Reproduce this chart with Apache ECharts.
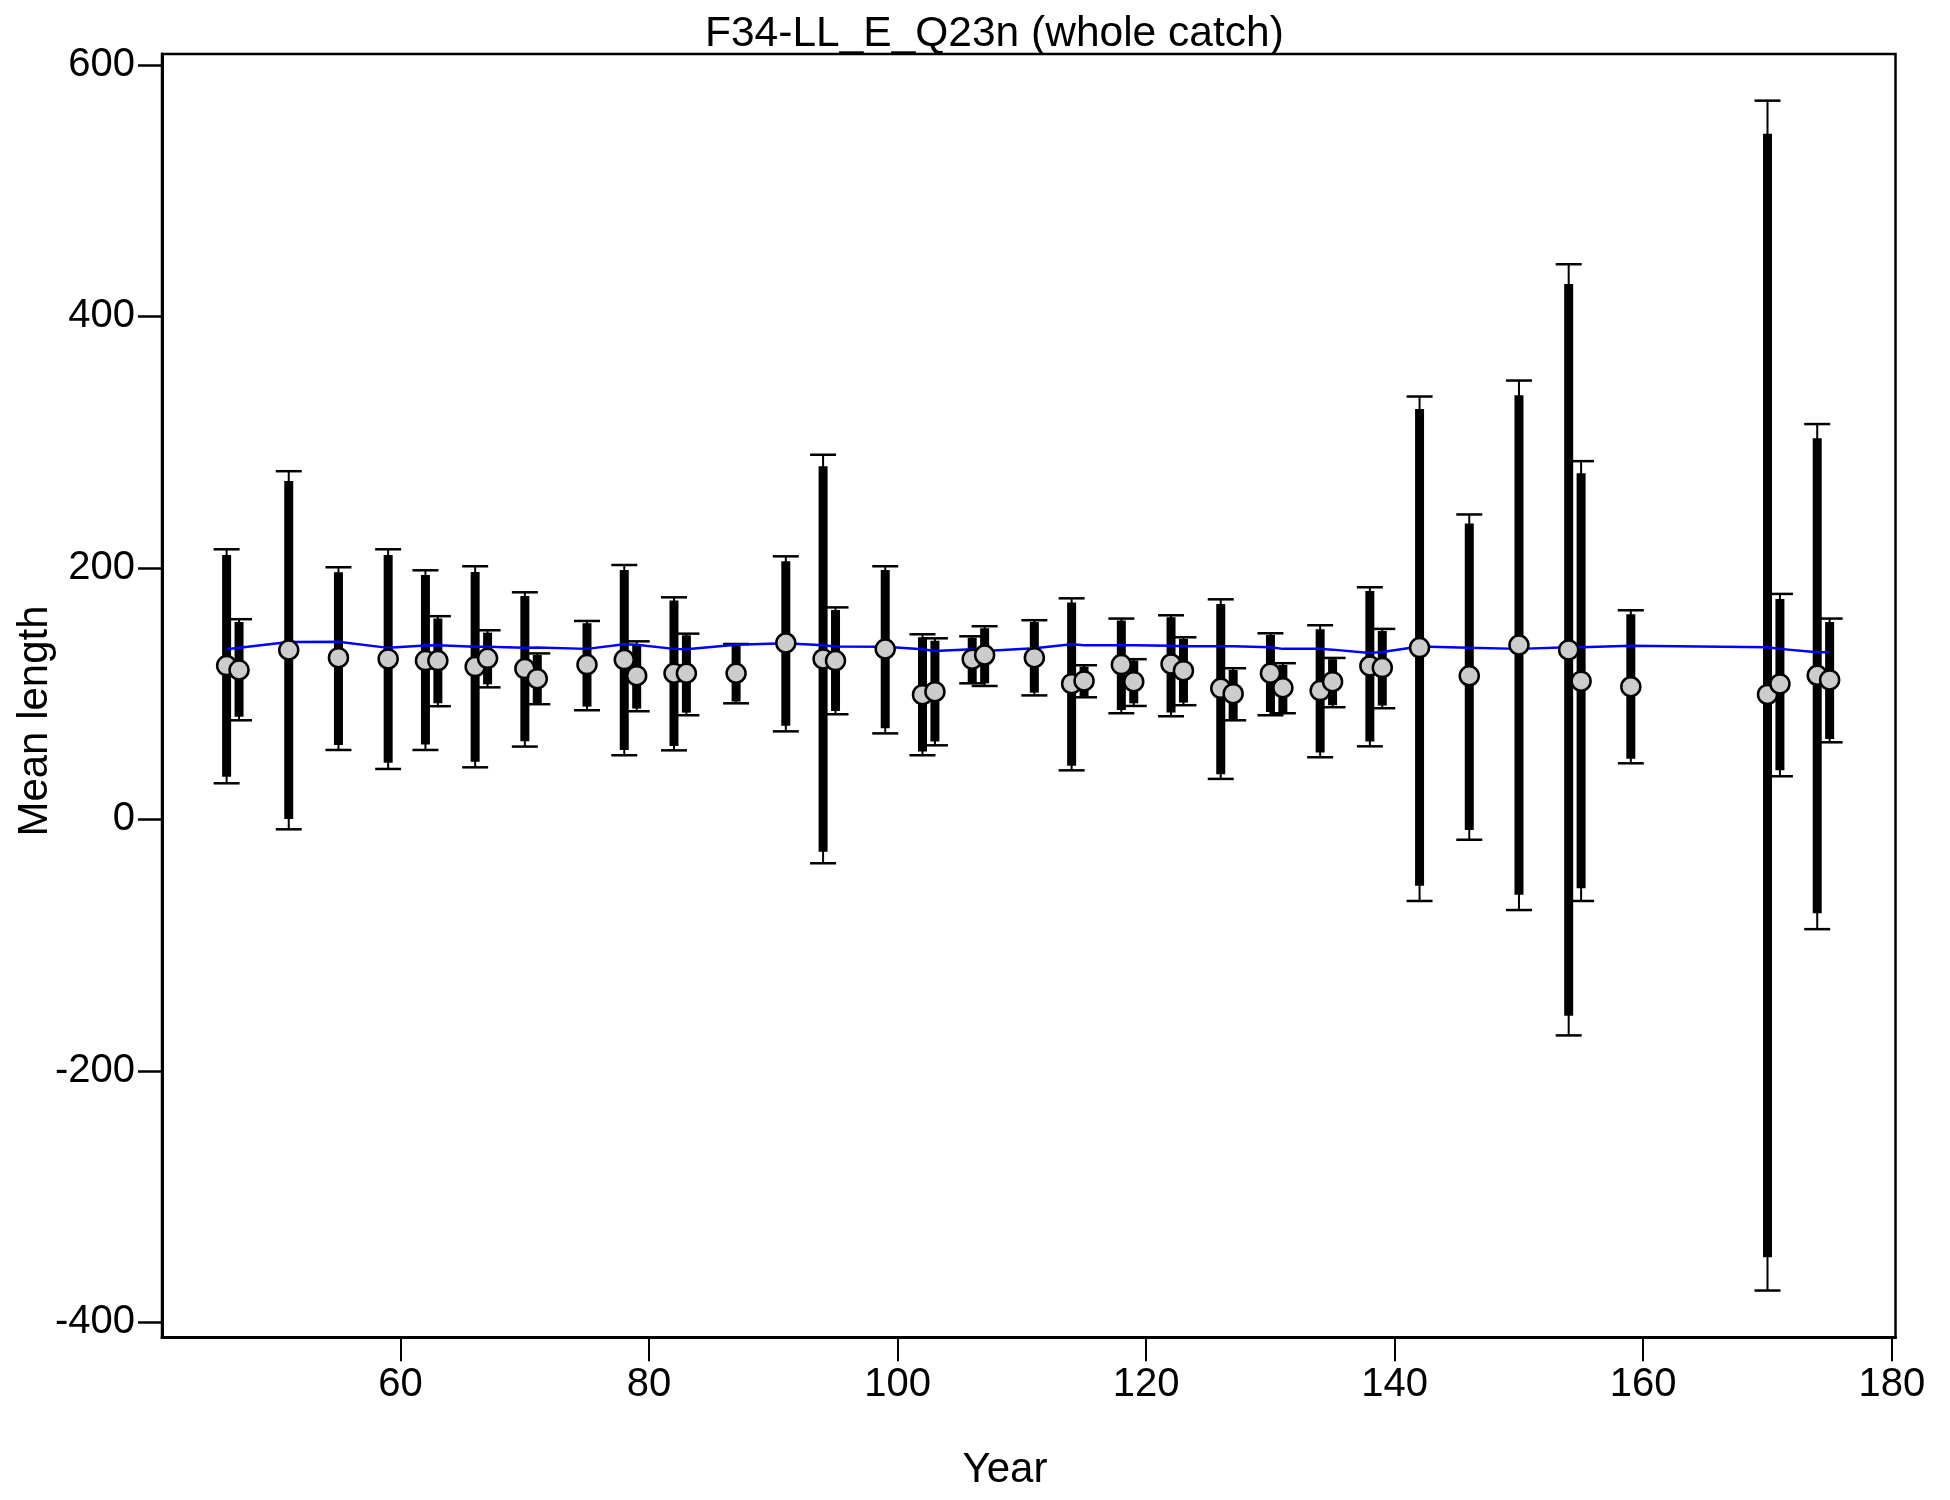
<!DOCTYPE html>
<html>
<head>
<meta charset="utf-8">
<script src="https://cdn.jsdelivr.net/npm/echarts@6/dist/echarts.min.js"></script>
<style>
html,body{margin:0;padding:0;background:#fff;}
#chart{width:1950px;height:1500px;}
</style>
</head>
<body>
<div id="chart"></div>
<script>
// ---- data ----
const years = [46,47,51,55,59,62,63,66,67,70,71,75,78,79,82,83,87,91,94,95,99,102,103,106,107,111,114,115,118,119,122,123,126,127,130,131,134,135,138,139,142,146,150,154,155,159,170,171,174,175];
const meanLength = [122.3,118.8,134.7,128.6,127.6,126.3,126.3,121.5,128.1,119.9,111.9,123.1,127.1,114.3,116.2,116.2,116.2,140.3,127.6,126.3,135.5,99.2,101.6,127.4,130.7,128.6,107.9,110.1,123.1,109.5,123.6,118.3,104.2,100.0,116.2,104.7,102.4,109.5,122.0,120.7,136.6,114.2,138.7,134.8,109.9,105.5,99.4,107.7,114.6,110.9];
const barLow = [34.0,81.7,0.4,59.2,45.1,59.5,92.3,45.9,107.4,62.1,92.3,89.7,55.2,88.1,58.4,84.9,93.7,74.5,-25.7,86.2,72.4,53.9,61.9,109.0,108.2,100.8,42.7,98.1,87.0,92.3,84.9,92.9,35.8,79.8,85.4,85.4,53.1,90.8,61.9,90.5,-52.8,-8.4,-59.9,-156.1,-54.7,48.3,-348.3,39.0,-74.7,64.0];
const barHigh = [210.3,157.0,269.1,196.5,210.3,194.3,159.7,196.7,148.5,177.7,130.8,156.0,198.3,139.5,174.0,146.4,137.9,205.2,280.8,166.5,198.3,144.8,142.1,144.5,152.0,157.0,172.4,121.5,158.1,126.3,160.8,143.5,171.3,118.8,146.7,122.8,151.2,127.4,181.7,149.9,326.3,235.4,337.4,425.8,275.2,163.2,545.2,175.2,303.2,157.0];
const capLow = [28.7,78.8,-7.9,55.2,40.1,55.2,90.0,41.4,105.0,57.9,91.6,86.8,51.0,86.0,54.9,82.8,92.3,70.0,-34.9,83.6,68.4,51.0,58.9,108.2,106.1,98.6,39.0,97.1,84.4,90.2,82.0,90.8,32.2,78.8,82.8,84.4,49.4,89.2,58.1,88.4,-64.9,-16.2,-72.1,-171.8,-64.9,44.6,-374.7,34.3,-87.3,61.3];
const capHigh = [214.8,159.2,276.9,200.5,214.8,198.1,161.6,201.3,150.4,180.6,132.0,157.8,202.3,141.6,176.6,147.7,139.5,209.2,290.0,168.6,201.3,147.2,144.0,145.6,153.6,158.4,175.8,122.6,159.7,127.4,162.3,144.8,175.0,120.2,148.0,124.2,154.4,128.4,184.6,151.5,336.3,242.5,349.0,441.5,284.9,166.3,571.6,179.3,314.4,159.7];
const smoothFit = [135.3,136.5,141.0,141.2,136.4,138.3,138.5,137.2,137.2,136.4,136.6,135.6,139.3,138.8,135.6,135.3,138.8,140.1,138.5,137.4,137.2,135.3,134.0,135.3,134.0,136.1,139.3,138.5,138.5,138.5,138.0,137.7,137.7,137.7,136.9,135.6,135.6,135.0,132.4,133.2,137.4,136.4,135.6,136.9,136.9,138.0,136.9,135.6,132.9,132.9];
const xTicks = [60,80,100,120,140,160,180];
const yTicks = [-400,-200,0,200,400,600];
const titleText = 'F34-LL_E_Q23n (whole catch)';
const xName = 'Year';
const yName = 'Mean length';

// ---- build series data ----
const errData = years.map((y,i)=>[y, capLow[i], barLow[i], barHigh[i], capHigh[i]]);
const meanData = years.map((y,i)=>[y, meanLength[i]]);
const fitData = years.map((y,i)=>[y, smoothFit[i]]);

const FONT = "'Liberation Sans', Arial, sans-serif";
const chart = echarts.init(document.getElementById('chart'), null, {renderer:'canvas'});
chart.setOption({
  animation:false,
  backgroundColor:'#ffffff',
  title:{
    text:titleText, left:700, top:8,
    textStyle:{fontFamily:FONT, fontSize:42.5, fontWeight:'normal', color:'#000'}
  },
  grid:{left:162, top:54, right:54.5, bottom:162.7, show:true, borderColor:'#000', borderWidth:2.5, backgroundColor:'transparent'},
  xAxis:{
    type:'value', min:40.8, max:180.3,
    axisLine:{show:true, onZero:false, lineStyle:{color:'#000', width:3}},
    axisTick:{show:true, length:24, inside:false, customValues:xTicks, lineStyle:{color:'#000', width:2}},
    axisLabel:{show:true, customValues:xTicks, margin:28, fontFamily:FONT, fontSize:40, color:'#000', showMinLabel:true, showMaxLabel:true},
    splitLine:{show:false}
  },
  yAxis:{
    type:'value', min:-411.9, max:608.7,
    axisLine:{show:true, onZero:false, lineStyle:{color:'#000', width:3}},
    axisTick:{show:true, length:24, inside:false, customValues:yTicks, lineStyle:{color:'#000', width:2.5}},
    axisLabel:{show:true, customValues:yTicks, margin:27, fontFamily:FONT, fontSize:40, color:'#000', padding:[5,0,0,0]},
    splitLine:{show:false}
  },
  graphic:[
    {type:'text', x:35, y:721, rotation:Math.PI/2, style:{text:yName, fontFamily:FONT, fontSize:42, fill:'#000', textAlign:'center', textVerticalAlign:'middle'}},
    {type:'text', x:1005, y:1470, style:{text:xName, fontFamily:FONT, fontSize:42, fill:'#000', textAlign:'center', textVerticalAlign:'middle'}}
  ],
  series:[
    {
      type:'custom', name:'interval', z:2,
      data:errData,
      encode:{x:0, y:[1,2,3,4]},
      renderItem:function(params, api){
        const x = api.value(0);
        const pCapLo = api.coord([x, api.value(1)]);
        const pLo = api.coord([x, api.value(2)]);
        const pHi = api.coord([x, api.value(3)]);
        const pCapHi = api.coord([x, api.value(4)]);
        const cx = pLo[0];
        return {type:'group', children:[
          {type:'line', shape:{x1:cx, y1:pCapHi[1], x2:cx, y2:pCapLo[1]}, style:{stroke:'#000', lineWidth:2}},
          {type:'rect', shape:{x:cx-4.5, y:pHi[1], width:9, height:pLo[1]-pHi[1]}, style:{fill:'#000'}},
          {type:'line', shape:{x1:cx-13, y1:pCapHi[1], x2:cx+13, y2:pCapHi[1]}, style:{stroke:'#000', lineWidth:2.5}},
          {type:'line', shape:{x1:cx-13, y1:pCapLo[1], x2:cx+13, y2:pCapLo[1]}, style:{stroke:'#000', lineWidth:2.5}}
        ]};
      }
    },
    {
      type:'line', name:'fit', z:3, data:fitData, showSymbol:false, symbol:'none', smooth:false,
      lineStyle:{color:'#0000ff', width:2.5}
    },
    {
      type:'scatter', name:'mean', z:4, data:meanData, symbol:'circle', symbolSize:19,
      itemStyle:{color:'#cccccc', borderColor:'#000', borderWidth:2.5, opacity:1}
    }
  ]
});
</script>
</body>
</html>
